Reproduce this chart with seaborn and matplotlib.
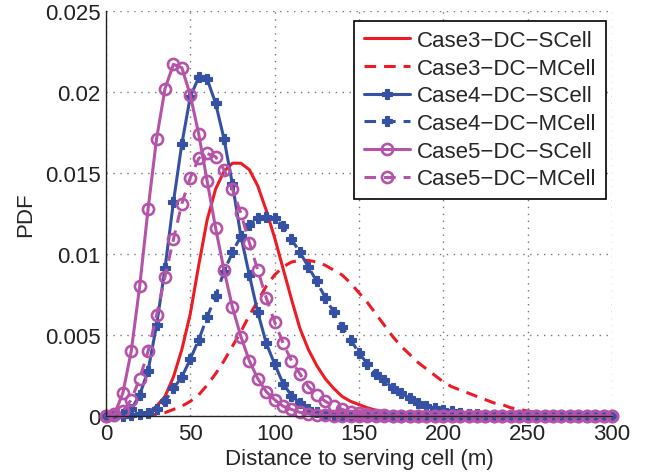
import numpy as np
import pandas as pd
import matplotlib
matplotlib.use("Agg")
import matplotlib.pyplot as plt
import seaborn as sns

# Distance grid (m), sampled every 5 m
distance = list(range(0, 301, 5))

case3_scell = [0, 0, 0, 0.00002, 0.00008, 0.0002, 0.0006, 0.0012, 0.0024, 0.0041,
               0.0063, 0.0093, 0.0121, 0.0140, 0.0151, 0.0156, 0.0156, 0.0152, 0.0142, 0.0127,
               0.0110, 0.0091, 0.0072, 0.0054, 0.0041, 0.0031, 0.0023, 0.0017, 0.0012, 0.0009,
               0.0007, 0.0005, 0.00035, 0.00025, 0.00017, 0.00011, 0.00007, 0.00004, 0.00002, 0.00001] + [0] * 21

case3_mcell = [0, 0, 0, 0, 0.00003, 0.00006, 0.0001, 0.0002, 0.0004, 0.0006,
               0.0009, 0.0013, 0.0019, 0.0026, 0.0034, 0.0043, 0.0052, 0.0062, 0.0071, 0.0080,
               0.0087, 0.0092, 0.0095, 0.0096, 0.0096, 0.0095, 0.0093, 0.0090, 0.0087, 0.0082,
               0.0076, 0.0070, 0.0063, 0.0056, 0.0049, 0.0043, 0.0038, 0.0033, 0.0029, 0.0025,
               0.0021, 0.0018, 0.0016, 0.0014, 0.0012, 0.0010, 0.0008, 0.0007, 0.0005, 0.0004,
               0.0003, 0.0002, 0.00015, 0.0001, 0.00007, 0.00005, 0.00003, 0.00002, 0.00001, 0, 0]

case4_scell = [0, 0, 0.0001, 0.0004, 0.0013, 0.0028, 0.0056, 0.0091, 0.0132, 0.0168,
               0.0197, 0.0209, 0.0208, 0.0193, 0.0171, 0.0143, 0.0111, 0.0087, 0.0064, 0.0045,
               0.0032, 0.0020, 0.00125, 0.0008, 0.00045, 0.00025, 0.00014, 0.00008, 0.00004, 0.00002,
               0.00001] + [0] * 30

case4_mcell = [0, 0, 0.00002, 0.00005, 0.0001, 0.0002, 0.0004, 0.0009, 0.0017, 0.0024,
               0.0035, 0.0047, 0.0061, 0.0074, 0.0089, 0.0101, 0.0111, 0.0118, 0.0122, 0.0123,
               0.0122, 0.0117, 0.0109, 0.0101, 0.0092, 0.0083, 0.0073, 0.0064, 0.0055, 0.0047,
               0.0039, 0.0032, 0.0026, 0.0022, 0.0017, 0.0014, 0.0011, 0.0008, 0.00064, 0.0005,
               0.00038, 0.00028, 0.0002, 0.00014, 0.0001, 0.00007, 0.00005, 0.00003, 0.00002, 0.00001] + [0] * 11

case5_scell = [0, 0.0001, 0.0014, 0.0040, 0.0080, 0.0128, 0.0171, 0.0202, 0.0217, 0.0215,
               0.0198, 0.0174, 0.0145, 0.0116, 0.0090, 0.0067, 0.0049, 0.0034, 0.0023, 0.0015,
               0.0010, 0.0006, 0.0004, 0.00022, 0.00012, 0.00006, 0.00003, 0.00001] + [0] * 33

case5_mcell = [0, 0.00005, 0.0003, 0.0010, 0.0023, 0.0040, 0.0062, 0.0086, 0.0109, 0.0131,
               0.0147, 0.0159, 0.0162, 0.0160, 0.0152, 0.0140, 0.0125, 0.0107, 0.0090, 0.0073,
               0.0058, 0.0045, 0.0034, 0.0026, 0.0018, 0.0013, 0.0009, 0.0006, 0.0004, 0.00025,
               0.00016, 0.0001, 0.00006, 0.00004, 0.00002, 0.00001] + [0] * 25

labels = ["Case3\u2212DC\u2212SCell", "Case3\u2212DC\u2212MCell",
          "Case4\u2212DC\u2212SCell", "Case4\u2212DC\u2212MCell",
          "Case5\u2212DC\u2212SCell", "Case5\u2212DC\u2212MCell"]
x_ticks = [0, 50, 100, 150, 200, 250, 300]
y_ticks = [0, 0.005, 0.01, 0.015, 0.02, 0.025]
y_tick_labels = ["0", "0.005", "0.01", "0.015", "0.02", "0.025"]

RED = "#ED1C24"
BLUE = "#3451A3"
MAGENTA = "#B453A8"

sns.set_style("white")
plt.rcParams["font.family"] = ["Liberation Sans", "DejaVu Sans"]

fig = plt.figure(figsize=(6.5, 4.77), dpi=100)
ax = fig.add_axes([0.163, 0.126, 0.7785, 0.849])

DASH = (0, (3.8, 2.6))
series = [case3_scell, case3_mcell, case4_scell, case4_mcell, case5_scell, case5_mcell]
styles = [
    dict(color=RED, linestyle="-"),
    dict(color=RED, linestyle=DASH),
    dict(color=BLUE, linestyle="-", marker="P", markersize=7,
         markeredgecolor=BLUE, markeredgewidth=0.8),
    dict(color=BLUE, linestyle=DASH, marker="P", markersize=7,
         markeredgecolor=BLUE, markeredgewidth=0.8),
    dict(color=MAGENTA, linestyle="-", marker="o", markersize=8,
         markerfacecolor="none", markeredgecolor=MAGENTA, markeredgewidth=1.9),
    dict(color=MAGENTA, linestyle=DASH, marker="o", markersize=8,
         markerfacecolor="none", markeredgecolor=MAGENTA, markeredgewidth=1.9),
]

for values, label, style in zip(series, labels, styles):
    df = pd.DataFrame({"distance": distance, "pdf": values})
    sns.lineplot(data=df, x="distance", y="pdf", ax=ax, label=label,
                 linewidth=2.2, clip_on=False, **style)

ax.set_xlim(0, 300)
ax.set_ylim(0, 0.025)
ax.set_xticks(x_ticks)
ax.set_yticks(y_ticks)
ax.set_yticklabels(y_tick_labels)
ax.set_xlabel("Distance to serving cell (m)", fontsize=16, labelpad=3)
ax.set_ylabel("PDF", fontsize=16, labelpad=6)

ax.grid(True, color="#777777", linestyle=(0, (1, 4)), linewidth=1.0)
ax.tick_params(axis="both", direction="in", length=5, width=1, labelsize=16,
               colors="#222222", top=False, right=False)
ax.tick_params(axis="x", pad=5)
ax.tick_params(axis="y", pad=4)
for side in ("top", "right"):
    ax.spines[side].set_visible(False)
for side in ("left", "bottom"):
    ax.spines[side].set_color("#222222")
    ax.spines[side].set_linewidth(1.0)

leg = ax.legend(loc="upper right", bbox_to_anchor=(0.988, 0.976), fontsize=16,
                frameon=True, fancybox=False, framealpha=1, edgecolor="black",
                handlelength=2.1, handletextpad=0.3, labelspacing=0.3,
                borderpad=0.42, borderaxespad=0)
leg.get_frame().set_linewidth(1.2)

fig.savefig("out.png", dpi=100)
